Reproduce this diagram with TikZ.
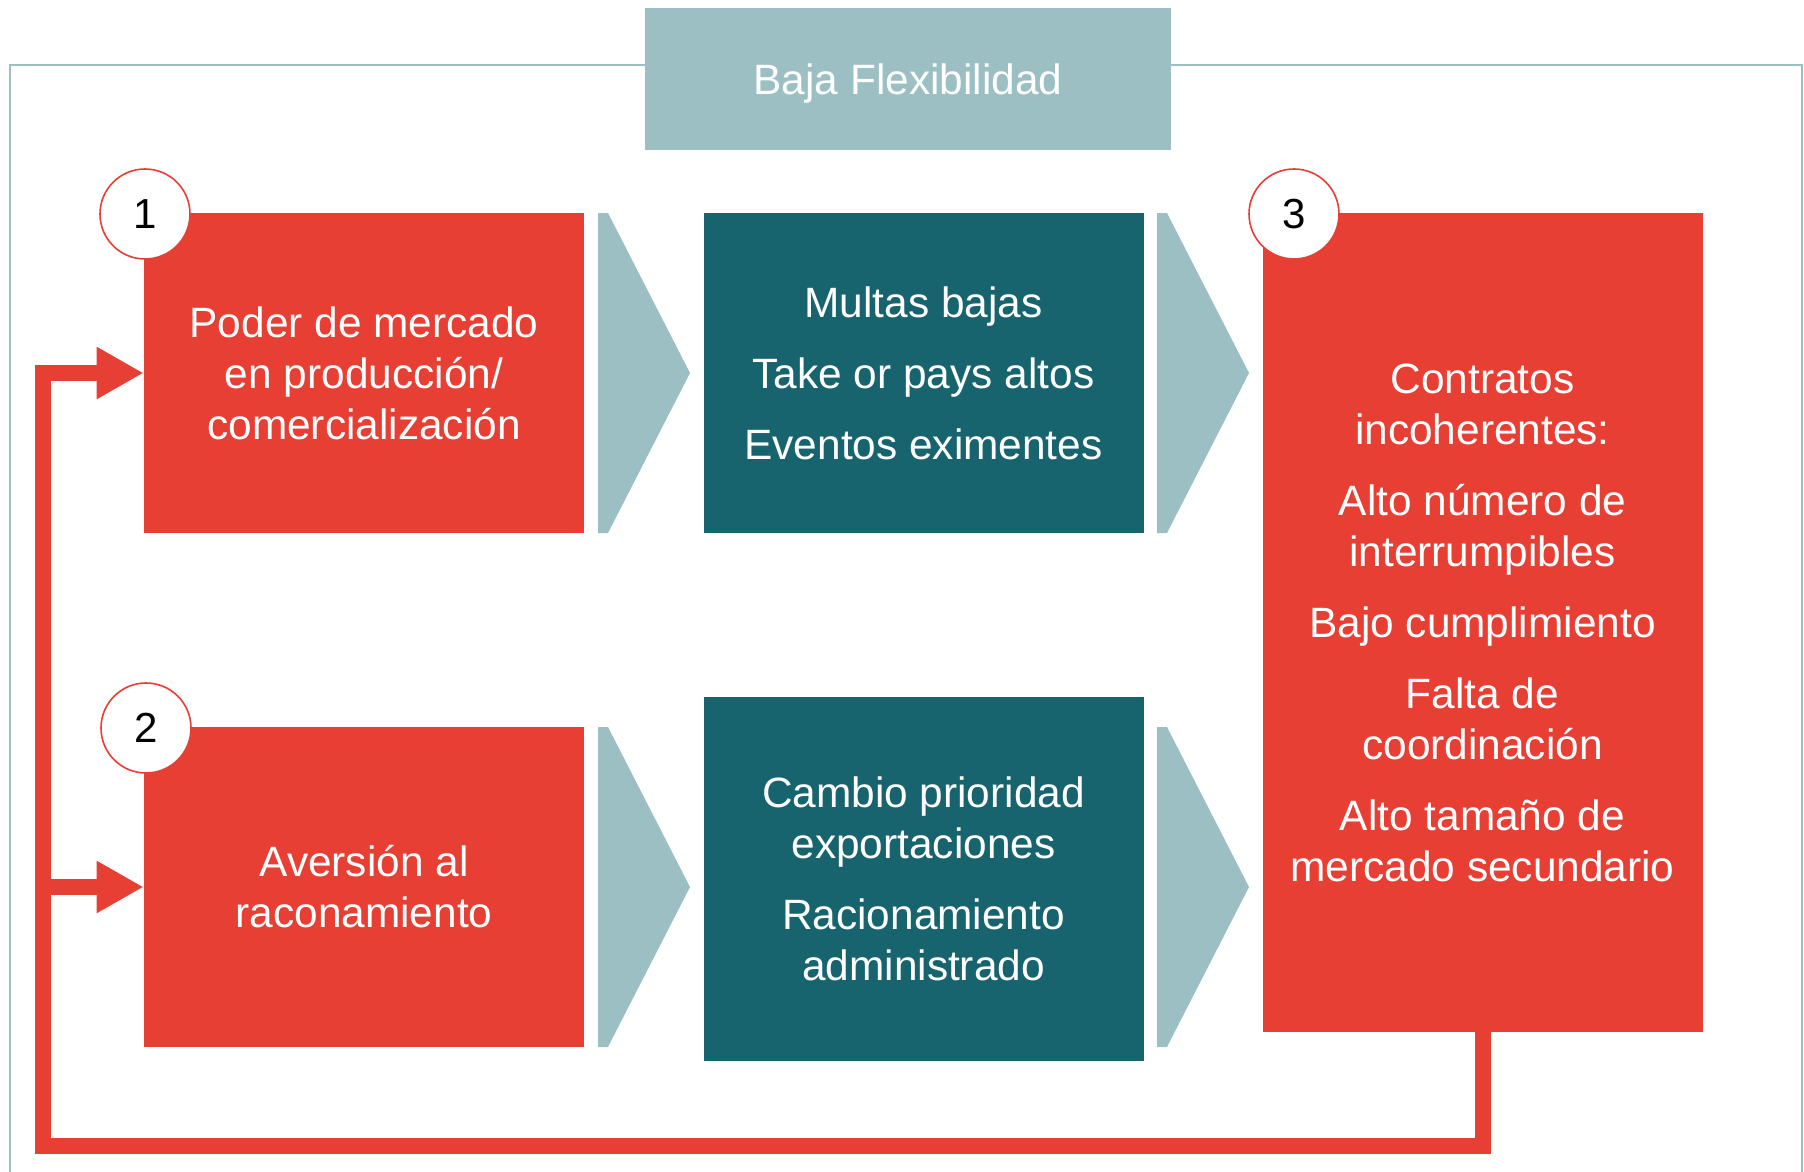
\documentclass[tikz,border=0pt]{standalone}
\usepackage{fontspec}
\setmainfont{Liberation Sans}
\usetikzlibrary{arrows.meta}
\definecolor{cred}{HTML}{E83F35}
\definecolor{cteal}{HTML}{18646E}
\definecolor{clight}{HTML}{9BBFC3}
\begin{document}
\begin{tikzpicture}[x=0.5pt,y=-0.5pt,
  txt/.style={text=white,align=center,inner sep=0pt,font=\fontsize{21.2}{25.5}\selectfont},
  redbox/.style={txt,fill=cred,minimum width=220pt,minimum height=160pt},
  tealbox/.style={txt,fill=cteal,minimum width=220pt,minimum height=160pt},
  num/.style={circle,draw=cred,line width=0.8pt,fill=white,minimum size=45pt,inner sep=0pt,font=\fontsize{21}{25}\selectfont},
  chev/.style={fill=clight},
  fback/.style={draw=cred,line width=8pt,line join=miter,-{Triangle[length=23.5pt,width=24.5pt]}}]
  \useasboundingbox (0,0) rectangle (1804,1172);
  % frame and title
  \draw[clight,line width=1pt] (10,1180) -- (10,65) -- (1802,65) -- (1802,1180);
  \node[txt,fill=clight,text depth=0pt,minimum width=263pt,minimum height=71pt] (title) at (908,79) {Baja Flexibilidad};
  % boxes
  \node[redbox] (p1) at (364,373) {Poder de mercado\\en producción/\\comercialización};
  \node[redbox] (p2) at (364,887) {Aversión al\\raconamiento};
  \node[tealbox] (m1) at (923.5,373) {Multas bajas\\[10pt]Take or pays altos\\[10pt]Eventos eximentes};
  \node[tealbox,minimum height=182pt] (m2) at (923.5,879) {Cambio prioridad\\exportaciones\\[10pt]Racionamiento\\administrado};
  \node[redbox,minimum height=409.5pt] (c3) at (1482.5,622.5) {Contratos\\incoherentes:\\[10pt]Alto número de\\interrumpibles\\[10pt]Bajo cumplimiento\\[10pt]Falta de\\coordinación\\[10pt]Alto tamaño de\\mercado secundario};
  % chevrons
  \foreach \cx/\cy in {598/373, 1157/373, 598/887, 1157/887}
    \fill[chev] (\cx,\cy-160) -- ++(10,0) -- (\cx+92,\cy) -- (\cx+10,\cy+160) -- ++(-10,0) -- cycle;
  % numbers
  \node[num] (n1) at (145,214) {1};
  \node[num] (n2) at (146,728) {2};
  \node[num] (n3) at (1294,214) {3};
  % feedback
  \coordinate (fbL) at (43,1146);
  \draw[fback] (c3.south) |- (fbL) |- (p1.west);
  \draw[fback] (fbL |- p2.west) -- (p2.west);
\end{tikzpicture}
\end{document}
